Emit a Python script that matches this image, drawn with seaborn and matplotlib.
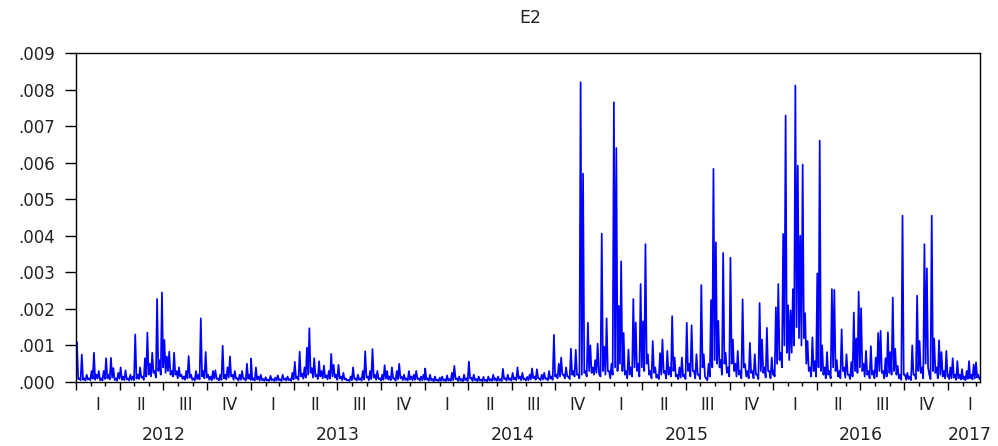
import numpy as np
import pandas as pd
import matplotlib
matplotlib.use("Agg")
import matplotlib.pyplot as plt
import matplotlib.dates as mdates
import matplotlib.transforms as mtransforms
import seaborn as sns

# ---------------- data (in units of 1e-4) ----------------
title = "E2"
value_unit = 1e-4
y_ticks = [0.000, 0.001, 0.002, 0.003, 0.004, 0.005, 0.006, 0.007, 0.008, 0.009]
quarter_names = ["I", "II", "III", "IV"]
years = [2012, 2013, 2014, 2015, 2016, 2017]
segment_bounds = [("2012-01-02", "2012-12-31"), ("2013-01-01", "2013-12-31"),
                  ("2014-01-01", "2014-12-31"), ("2015-01-01", "2015-12-31"),
                  ("2016-01-01", "2016-12-31"), ("2017-01-01", "2017-03-08")]

# local highs (read along the series)
e2_2012 = [11, 1, 7.5, 1, 2, 1, 3, 8, 2, 3, 1, 3, 6.5, 2, 6.6, 3.8, 1, 2.5, 4, 1.5,
           3.2, 1, 2, 1.5, 13, 2, 4, 1.5, 6.5, 13.5, 5, 8, 3, 22.7, 6, 24.5, 11.5, 7, 8.3, 3,
           8, 3, 4, 2, 1.5, 3, 7.1, 2, 1, 3, 2, 17.4, 3, 8.2, 2, 1.5, 3, 3.2, 1, 2,
           9.9, 2, 4, 7, 2, 3, 1, 2, 3, 1, 5, 2]
e2_2013 = [6.4, 1, 4, 1.5, 2, 0.8, 1.3, 0.6, 1.7, 0.8, 1.2, 1.8, 0.7, 2, 1, 1.5, 0.8, 2.5, 5.5, 1.5,
           8.3, 2.3, 4, 9.4, 14.7, 3.8, 6.5, 2, 5.7, 3, 4.5, 1.8, 3, 7.7, 4.7, 2, 4.7, 1.5, 2.5, 1,
           0.6, 1.5, 4, 1, 2, 1, 3, 8.4, 1.5, 3, 9, 2, 3, 1, 2, 4.6, 3, 1.5, 4, 1,
           3, 5, 1.5, 2, 1, 3, 1.5, 2, 3, 1, 1.5, 2]
e2_2014 = [3.7, 1, 2, 0.8, 1.5, 0.6, 1.2, 1.5, 0.7, 1.8, 0.8, 2.5, 4.4, 1, 1.5, 0.8, 2, 1, 5.6, 1.2,
           2, 0.8, 1.5, 0.7, 1.4, 0.6, 1.5, 0.8, 2, 1, 1.5, 0.8, 3.6, 1, 2, 1, 2.5, 1.2, 4, 1.5,
           2.5, 1, 1.4, 2, 3.7, 1.5, 3.5, 1, 2, 2.5, 1, 3, 1.5, 12.9, 2, 5, 6.7, 2, 4, 1.5,
           9.1, 3, 8.8, 2, 82, 57, 3, 16.2, 10, 4, 6, 10.5]
e2_2015 = [2, 40.6, 9.6, 17.4, 3, 5, 76.5, 64, 20.8, 33, 13.4, 3, 8.9, 4, 22.7, 16.3, 5, 26.8, 16.6, 37.7,
           7.6, 3, 11.2, 4, 2, 7.9, 11.6, 3, 8.5, 4, 18, 6.7, 2, 4, 6.7, 2, 16.2, 5, 15.5, 3,
           7.6, 2, 26.5, 7.6, 0.9, 5, 22.4, 58.3, 38.2, 16.7, 6, 35.3, 8, 4, 34, 11.6, 5, 8.5, 3, 22.6,
           4.9, 3, 10.7, 3, 7.6, 2, 21.6, 11.6, 4, 14.8, 3, 6.7]
e2_2016 = [3, 20.4, 26.8, 8, 40.5, 72.9, 21, 19.6, 25.4, 81.1, 59.2, 40, 59.5, 18.8, 11.2, 4, 12.2, 5.7, 29.7, 66,
           10, 4, 8.2, 3, 25.4, 25.2, 6, 3, 14.4, 4, 7.6, 2, 5.5, 19, 11.9, 24.7, 20.2, 5, 8.5, 3,
           9.8, 3, 6.7, 13.4, 14, 3, 6.5, 13.6, 8.2, 23.1, 9.1, 4.4, 2, 45.5, 2, 2.5, 1.5, 10, 2, 23.6,
           11.2, 4, 37.7, 31.1, 2, 45.5, 11.9, 4, 11.4, 8.2, 3, 8.5]
e2_2017 = [2, 4, 6.5, 2, 5.7, 2, 3.5, 1.5, 3, 5.7, 2, 4.8, 5.4, 2]

# local lows between consecutive highs (read along the series)
low_2012 = [0.8, 0.5, 0.6, 0.4, 0.7, 0.5, 0.9, 0.6, 1, 0.5, 0.4, 0.8, 1, 0.7, 1.2, 0.5, 0.4, 0.9, 0.6, 0.5,
            0.7, 0.4, 0.6, 0.5, 0.9, 0.8, 1.2, 0.6, 1.5, 2, 1.5, 2.5, 1.2, 3, 2, 4, 2.5, 3, 2, 1.5,
            2, 1, 1.5, 0.8, 0.6, 1, 1.2, 0.6, 0.4, 0.8, 0.7, 1.5, 1, 1.2, 0.6, 0.5, 0.9, 0.8, 0.4, 0.6,
            1, 0.7, 1.2, 1.5, 0.6, 0.9, 0.4, 0.6, 0.8, 0.4, 0.9, 0.6]
low_2013 = [0.6, 0.4, 0.7, 0.4, 0.5, 0.3, 0.4, 0.3, 0.5, 0.3, 0.4, 0.5, 0.3, 0.6, 0.4, 0.5, 0.3, 0.7, 1, 0.6,
            1.5, 0.9, 1.2, 2, 2.5, 1.2, 1.5, 0.8, 1.5, 1, 1.2, 0.7, 0.9, 1.5, 1.2, 0.6, 1, 0.5, 0.7, 0.4,
            0.3, 0.5, 0.8, 0.4, 0.6, 0.4, 0.7, 1.2, 0.5, 0.8, 1.2, 0.6, 0.8, 0.4, 0.6, 0.9, 0.7, 0.5, 0.9, 0.4,
            0.7, 1, 0.5, 0.6, 0.4, 0.7, 0.5, 0.6, 0.8, 0.4, 0.5, 0.6]
low_2014 = [0.7, 0.3, 0.5, 0.2, 0.4, 0.2, 0.3, 0.4, 0.2, 0.4, 0.3, 0.5, 0.8, 0.3, 0.4, 0.2, 0.5, 0.3, 0.9, 0.3,
            0.5, 0.2, 0.4, 0.2, 0.3, 0.2, 0.4, 0.3, 0.5, 0.3, 0.4, 0.3, 0.8, 0.4, 0.6, 0.4, 0.7, 0.5, 0.9, 0.5,
            0.7, 0.4, 0.5, 0.7, 1, 0.6, 1, 0.5, 0.7, 0.8, 0.5, 0.9, 0.6, 1.5, 1, 1.5, 2, 1, 1.5, 0.8,
            2, 1.5, 2, 1, 2, 2.5, 1.5, 3, 2.5, 2, 2.5, 3]
low_2015 = [1.5, 3, 2, 3, 1, 2, 4, 3, 5, 3, 2, 1, 2, 1.5, 4, 3, 1.5, 4, 3, 5,
            2, 1, 2.5, 1.2, 0.8, 2, 2.5, 1, 2, 1.5, 3, 1.5, 0.8, 1.2, 1.5, 0.8, 3, 1.5, 3, 1,
            2, 0.8, 4, 1.5, 0.5, 1.5, 4, 6, 5, 4, 2, 5, 2.5, 1.5, 5, 3, 1.5, 2, 1, 4,
            1.5, 1, 2.5, 1, 2, 0.8, 3, 2.5, 1.2, 3, 1, 2]
low_2016 = [1.5, 5, 6, 4, 10, 8, 6, 8, 10, 15, 12, 10, 12, 5, 3, 1.5, 3, 1.5, 4, 3,
            2, 1, 2, 1, 4, 3, 1.5, 1, 3, 1.2, 2, 0.8, 1.5, 3, 2.5, 4, 3, 1.5, 2, 1,
            2, 1, 1.5, 3, 2.5, 1, 1.5, 2.5, 2, 3, 2, 1, 0.6, 2, 0.6, 0.8, 0.5, 2, 0.8, 3,
            2.5, 1, 5, 4, 0.8, 3, 2.5, 1, 2, 1.5, 1, 1.5]
low_2017 = [0.8, 1, 1.2, 0.6, 1, 0.7, 0.8, 0.5, 0.9, 1, 0.7, 1, 1.2, 0.8]

highs_by_year = [e2_2012, e2_2013, e2_2014, e2_2015, e2_2016, e2_2017]
lows_by_year = [low_2012, low_2013, low_2014, low_2015, low_2016, low_2017]

dates, vals = [], []
for (start, end), hi, lo in zip(segment_bounds, highs_by_year, lows_by_year):
    seq = [v for pair in zip(hi, lo) for v in pair]
    dates.extend(pd.date_range(start, end, periods=len(seq)))
    vals.extend(seq)
df = pd.DataFrame({"date": pd.to_datetime(dates), "E2": np.array(vals) * value_unit})

# ---------------- style ----------------
sns.set_style("white")
plt.rcParams["font.family"] = ["DejaVu Sans"]

W, H = 998, 446
fig = plt.figure(figsize=(W / 100, H / 100), dpi=100)
ax = fig.add_axes([76 / W, 1 - 382 / H, (980 - 76) / W, (382 - 53) / H])

sns.lineplot(data=df, x="date", y="E2", ax=ax, color="#0000FF", linewidth=1.25,
             estimator=None)

x_start = pd.Timestamp("2011-12-31")
x_end = pd.Timestamp("2017-03-09")
ax.set_xlim(x_start, x_end)
ax.set_ylim(0, 0.009)
ax.set_xlabel("")
ax.set_ylabel("")

ax.set_yticks(y_ticks)
ax.set_yticklabels([f"{v:.3f}"[1:] for v in y_ticks])
ax.tick_params(axis="y", direction="out", length=8, width=1, pad=7, labelsize=12,
               left=True, color="black", labelcolor="#222222")

ax.xaxis.set_major_locator(mdates.MonthLocator(bymonth=[1, 4, 7, 10]))
ax.xaxis.set_minor_locator(mdates.MonthLocator())
ax.tick_params(axis="x", which="major", direction="out", length=5.5, width=1,
               bottom=True, labelbottom=False, color="black")
ax.tick_params(axis="x", which="minor", direction="out", length=3, width=1,
               bottom=True, labelbottom=False, color="black")

for sp in ax.spines.values():
    sp.set_color("black")
    sp.set_linewidth(1.0)
    sp.set_visible(True)

trans = mtransforms.blended_transform_factory(ax.transData, ax.transAxes)
for yr in years:
    spans = []
    for qi, qn in enumerate(quarter_names):
        qs = pd.Timestamp(yr, 3 * qi + 1, 1)
        qe = qs + pd.DateOffset(months=3)
        if qs >= x_end:
            continue
        spans.append((qs, qe))
        ax.text(qs + (qe - qs) / 2, -0.07, qn, transform=trans, ha="center", va="center",
                fontsize=12, color="#222222")
    ys, ye = spans[0][0], spans[-1][1]
    ax.text(ys + (ye - ys) / 2, -0.162, str(yr), transform=trans, ha="center",
            va="center", fontsize=12.5, color="#222222")

fig.text(530 / W, 1 - 18 / H, title, ha="center", va="center", fontsize=12.5,
         color="#222222")

fig.savefig("out.png", dpi=100)
